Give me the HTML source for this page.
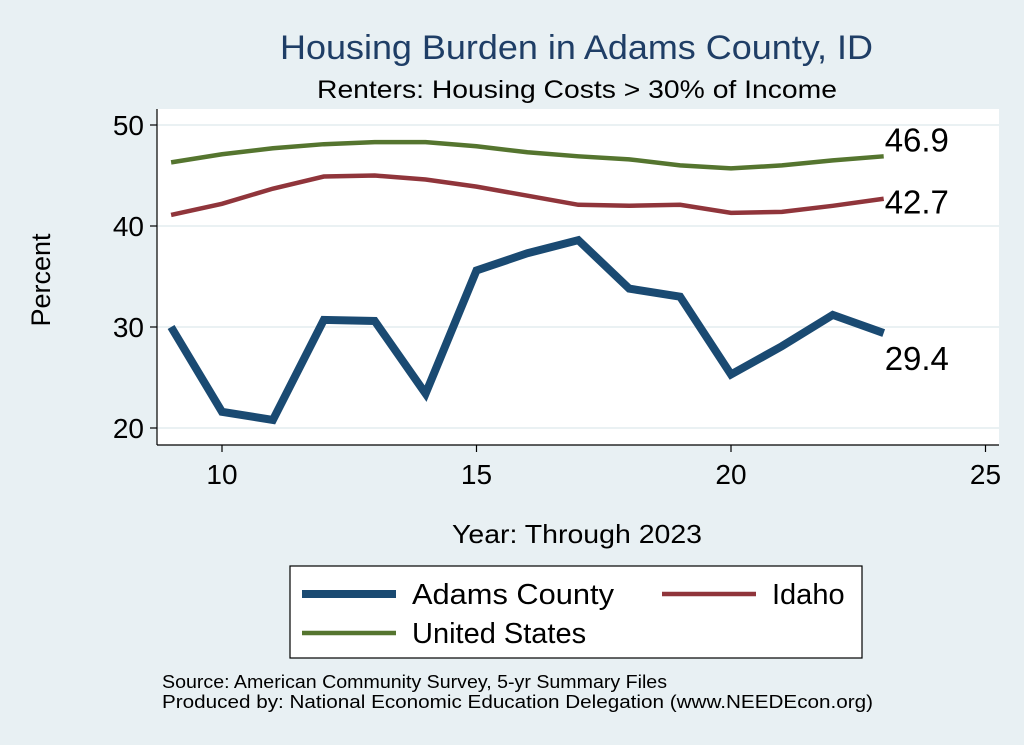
<!DOCTYPE html>
<html><head><meta charset="utf-8"><style>
body{margin:0;background:#e8f0f3;}
svg{display:block;font-family:"Liberation Sans",sans-serif;}
</style></head><body>
<svg width="1024" height="745" viewBox="0 0 1024 745">
<rect width="1024" height="745" fill="#e8f0f3"/>
<text x="280" y="59" font-size="34" fill="#1f3e66" textLength="593" lengthAdjust="spacingAndGlyphs">Housing Burden in Adams County, ID</text>
<text x="317" y="98" font-size="25" fill="#000" textLength="520" lengthAdjust="spacingAndGlyphs">Renters: Housing Costs &gt; 30% of Income</text>
<rect x="157" y="109" width="842" height="336" fill="#fff"/>
<g id="grid"></g>
<line x1="157" y1="109" x2="157" y2="445" stroke="#000" stroke-width="1.2"/>
<line x1="157" y1="445" x2="999" y2="445" stroke="#000" stroke-width="1.2"/>
<g id="ticks"></g>
<g id="series"></g>
<text x="50" y="280" font-size="27" text-anchor="middle" transform="rotate(-90 50 280)">Percent</text>
<text x="452" y="543" font-size="26" textLength="250" lengthAdjust="spacingAndGlyphs">Year: Through 2023</text>
<g>
<rect x="290" y="566" width="572" height="92" fill="#fff" stroke="#000" stroke-width="1.2"/>
<g><line x1="302" y1="594" x2="396" y2="594" stroke="#1a4a72" stroke-width="8"/><text x="412" y="604" font-size="29" textLength="202" lengthAdjust="spacingAndGlyphs">Adams County</text></g>
<g><line x1="662" y1="594" x2="756" y2="594" stroke="#90353b" stroke-width="4.5"/><text x="772" y="604" font-size="29">Idaho</text></g>
<g><line x1="302" y1="633" x2="396" y2="633" stroke="#55752f" stroke-width="4.5"/><text x="412" y="643" font-size="29">United States</text></g>
</g>
<text x="162" y="688" font-size="18" textLength="505" lengthAdjust="spacingAndGlyphs">Source: American Community Survey, 5-yr Summary Files</text>
<text x="162" y="708" font-size="18" textLength="711" lengthAdjust="spacingAndGlyphs">Produced by: National Economic Education Delegation (www.NEEDEcon.org)</text>
</svg>
<script>
const years=[9,10,11,12,13,14,15,16,17,18,19,20,21,22,23];
const adams=[30.0,21.6,20.8,30.7,30.6,23.4,35.6,37.3,38.6,33.8,33.0,25.3,28.1,31.2,29.4];
const idaho=[41.1,42.2,43.7,44.9,45.0,44.6,43.9,43.0,42.1,42.0,42.1,41.3,41.4,42.0,42.7];
const us=[46.3,47.1,47.7,48.1,48.3,48.3,47.9,47.3,46.9,46.6,46.0,45.7,46.0,46.5,46.9];
const xTicks=[10,15,20,25];
const yTicks=[20,30,40,50];
const NS="http://www.w3.org/2000/svg";
function X(v){return 222+(v-10)*50.9;}
function Y(v){return 428-(v-20)*10.1;}
function mk(t,a,p){const e=document.createElementNS(NS,t);for(const k in a)e.setAttribute(k,a[k]);p.appendChild(e);return e;}
const grid=document.getElementById('grid'),ticks=document.getElementById('ticks'),ser=document.getElementById('series');
yTicks.forEach(v=>{
 const g=mk('line',{x1:157,x2:999,y1:Y(v),y2:Y(v),stroke:'#eaf1f3','stroke-width':2},grid);
 
 
 const t=mk('line',{x1:150,x2:157,y1:Y(v),y2:Y(v),stroke:'#000','stroke-width':1.2},ticks);
 
 
 const l=mk('text',{x:144,y:Y(v)+10,'font-size':28,'text-anchor':'end'},ticks);l.textContent=v;
 
 
});
xTicks.forEach(v=>{
 const t=mk('line',{x1:X(v),x2:X(v),y1:445,y2:452,stroke:'#000','stroke-width':1.2},ticks);
 
 
 const l=mk('text',{x:X(v),y:484,'font-size':28,'text-anchor':'middle'},ticks);l.textContent=v;
 
 
});
function line(data,color,w,name,dy){
 const p=mk('polyline',{points:data.map((v,i)=>X(years[i])+','+Y(v)).join(' '),fill:'none',stroke:color,'stroke-width':w,'stroke-linejoin':'miter'},ser);
 
 
 const last=data[data.length-1];
 const l=mk('text',{x:X(years[years.length-1])+1,y:Y(last)+dy,'font-size':33},ser);
 l.textContent=last.toFixed(1);
 
 
}
line(us,'#55752f',4.5,'line-united-states',-5);
line(idaho,'#90353b',4.5,'line-idaho',15);
line(adams,'#1a4a72',8,'line-adams-county',37);
</script>
</body></html>
